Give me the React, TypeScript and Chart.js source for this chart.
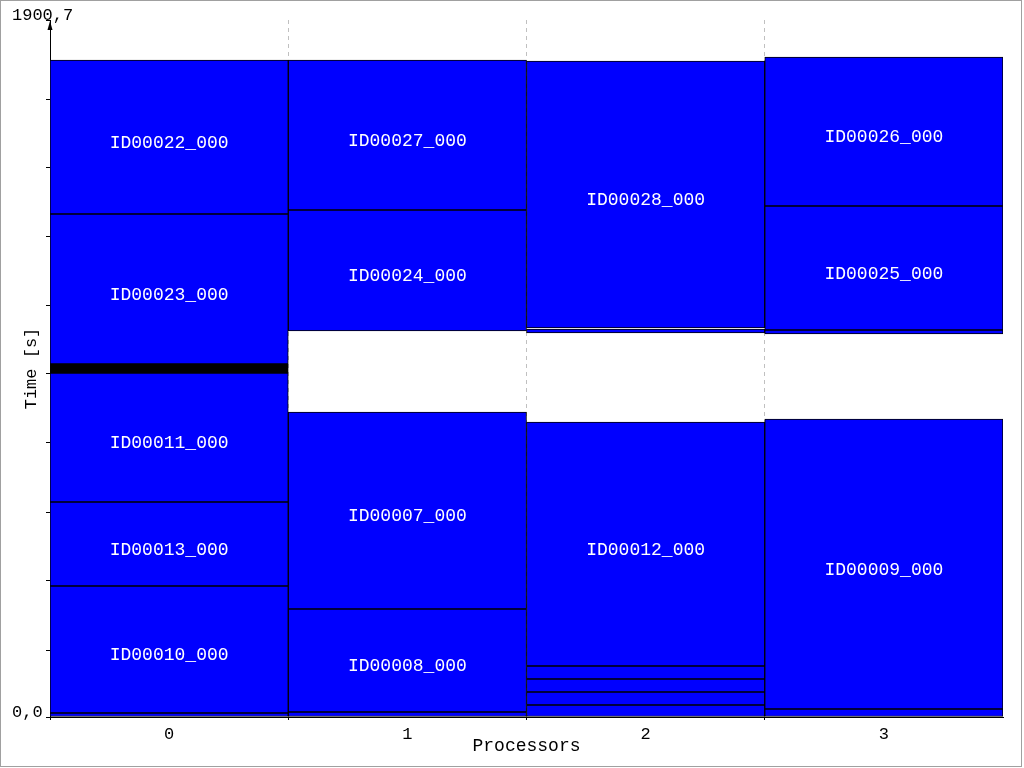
import React, { useEffect, useRef } from 'react';
import { Chart, registerables } from 'chart.js';

Chart.register(...registerables);

const FONT = '"Liberation Mono", "Courier New", monospace';

const processors = ['0', '1', '2', '3'];

const taskNames = [
  '', 'ID00010_000', 'ID00013_000', 'ID00011_000', '', 'ID00023_000', 'ID00022_000',
  '', 'ID00008_000', 'ID00007_000', 'ID00024_000', 'ID00027_000',
  '', '', '', '', 'ID00012_000', '', 'ID00028_000',
  '', 'ID00009_000', '', 'ID00025_000', 'ID00026_000',
];
const taskKind = [
  'job', 'job', 'job', 'job', 'comm', 'job', 'job',
  'job', 'job', 'job', 'job', 'job',
  'job', 'job', 'job', 'job', 'job', 'job', 'job',
  'job', 'job', 'job', 'job', 'job',
];
const taskProc = [
  0, 0, 0, 0, 0, 0, 0,
  1, 1, 1, 1, 1,
  2, 2, 2, 2, 2, 2, 2,
  3, 3, 3, 3, 3,
];
const taskStart = [
  0, 10.9, 357.2, 586.3, 938.1, 962.6, 1371.7,
  0, 13.6, 294.5, 1052.6, 1382.6,
  0, 32.7, 68.2, 103.6, 139.1, 1047.2, 1060.8,
  0, 21.8, 1044.4, 1055.3, 1393.5,
];
const taskEnd = [
  10.9, 357.2, 586.3, 938.1, 962.6, 1371.7, 1791.6,
  13.6, 294.5, 831.7, 1382.6, 1791.6,
  32.7, 68.2, 103.6, 139.1, 804.5, 1058.1, 1788.9,
  21.8, 812.6, 1055.3, 1393.5, 1799.8,
];

const yMax = 1900.7;
const yTickValues = [0, 182.7, 370.9, 559.0, 747.2, 935.4, 1120.8, 1309.0, 1497.2, 1684.5, 1900.7];
const yLabelValues = [0, 1900.7];
const yLabelTexts = ['0,0', '1900,7'];

const kindColor: Record<string, string> = { job: '#0000ff', comm: '#000000' };

const decorPlugin = {
  id: 'ganttDecor',
  beforeDraw(chart: any) {
    const ctx = chart.ctx;
    ctx.save();
    ctx.fillStyle = '#ffffff';
    ctx.fillRect(0, 0, chart.width, chart.height);
    ctx.restore();
  },
  afterDatasetsDraw(chart: any) {
    const ctx = chart.ctx;
    ctx.save();
    ctx.font = `18px ${FONT}`;
    ctx.fillStyle = '#ffffff';
    ctx.textAlign = 'center';
    ctx.textBaseline = 'middle';
    taskNames.forEach((name, i) => {
      if (!name) return;
      const meta = chart.getDatasetMeta(i);
      const el = meta.data[taskProc[i]];
      if (!el) return;
      const p = el.getProps(['x', 'y', 'base'], true);
      ctx.fillText(name, p.x, (p.y + p.base) / 2 + 6);
    });
    ctx.restore();
  },
  afterDraw(chart: any) {
    const ctx = chart.ctx;
    const ys = chart.scales.y;
    ctx.save();
    ctx.font = `17px ${FONT}`;
    ctx.fillStyle = '#000000';
    ctx.textAlign = 'left';
    ctx.textBaseline = 'middle';
    yLabelValues.forEach((v, i) => {
      ctx.fillText(yLabelTexts[i], 12, ys.getPixelForValue(v) - 5);
    });
    const ax = ys.right;
    const top = ys.getPixelForValue(yMax);
    ctx.beginPath();
    ctx.moveTo(ax, top + 1);
    ctx.lineTo(ax - 2.5, top + 10);
    ctx.lineTo(ax + 2.5, top + 10);
    ctx.closePath();
    ctx.fillStyle = '#000000';
    ctx.fill();
    ctx.strokeStyle = '#a0a0a0';
    ctx.lineWidth = 1;
    ctx.strokeRect(0.5, 0.5, 1021, 766);
    ctx.restore();
  },
};

export default function App() {
  const ref = useRef<HTMLCanvasElement>(null);

  useEffect(() => {
    document.body.style.margin = '0';
    const datasets = taskNames.map((name, i) => ({
      label: name || `task${i}`,
      data: processors.map((_, p) => (p === taskProc[i] ? [taskStart[i], taskEnd[i]] : null)),
      backgroundColor: kindColor[taskKind[i]],
      borderColor: '#000000',
      borderWidth: 1,
      borderSkipped: false,
      grouped: false,
      barPercentage: 1,
      categoryPercentage: 1,
    }));

    const chart = new Chart(ref.current as HTMLCanvasElement, {
      type: 'bar',
      data: { labels: processors, datasets: datasets as any },
      plugins: [decorPlugin],
      options: {
        responsive: false,
        animation: false,
        devicePixelRatio: 1,
        layout: { padding: { left: 12, right: 21, top: 20, bottom: 0 } },
        plugins: {
          legend: { display: false },
          tooltip: { enabled: false },
        },
        scales: {
          x: {
            type: 'category',
            offset: true,
            grid: {
              offset: true,
              display: true,
              drawOnChartArea: true,
              drawTicks: true,
              tickLength: 3,
              color: (c: any) => (c.index === undefined ? 'rgba(0,0,0,0)' : '#c0c0c0'),
              tickColor: (c: any) => (c.index === undefined ? 'rgba(0,0,0,0)' : '#000000'),
              tickBorderDash: [],
              lineWidth: 1,
            },
            border: { display: true, color: '#000000', width: 1, dash: [4, 4] },
            ticks: { color: '#000000', font: { family: FONT, size: 17 }, padding: 4 },
            title: {
              display: true,
              text: 'Processors',
              color: '#000000',
              font: { family: FONT, size: 18 },
              padding: { top: 0, bottom: 11 },
            },
            afterFit: (s: any) => {
              s.height = 51;
            },
          },
          y: {
            type: 'linear',
            min: 0,
            max: yMax,
            afterBuildTicks: (s: any) => {
              s.ticks = yTickValues.map((v) => ({ value: v }));
            },
            grid: {
              display: true,
              drawOnChartArea: false,
              drawTicks: true,
              tickLength: 4,
              tickColor: '#000000',
              color: '#000000',
            },
            border: { display: true, color: '#000000', width: 1 },
            ticks: { display: false },
            title: {
              display: true,
              text: 'Time [s]',
              color: '#000000',
              font: { family: FONT, size: 17 },
              padding: { top: 9, bottom: 0 },
            },
            afterFit: (s: any) => {
              s.width = 38;
            },
          },
        },
      } as any,
    });
    return () => chart.destroy();
  }, []);

  return (
    <div style={{ width: 1024, height: 768 }}>
      <canvas ref={ref} width={1024} height={768} style={{ display: 'block', width: 1024, height: 768 }} />
    </div>
  );
}
